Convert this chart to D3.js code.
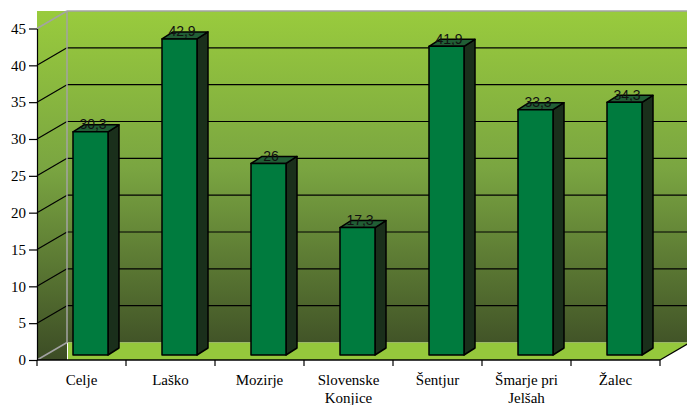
<!DOCTYPE html>
<html>
<head>
<meta charset="utf-8">
<script src="https://cdn.jsdelivr.net/npm/d3@7"></script>
<style>
  html, body { margin: 0; padding: 0; background: #fff; }
  svg { display: block; }
  .serif { font-family: "Liberation Serif", "DejaVu Serif", "Times New Roman", serif; }
  .sans { font-family: "Liberation Sans", Arial, sans-serif; }
</style>
</head>
<body>
<svg id="chart" width="687" height="405"></svg>
<script>
// Municipalities and their values
const categories = ["Celje", "Laško", "Mozirje", "Slovenske Konjice", "Šentjur", "Šmarje pri Jelšah", "Žalec"];
const values = [30.3, 42.9, 26, 17.3, 41.9, 33.3, 34.3];
const yTicks = [0, 5, 10, 15, 20, 25, 30, 35, 40, 45];

const svg = d3.select("#chart");
const W = 687;

// 3D frame geometry
const left = 37, right = 660, bottom = 360;
const depthX = 30, depthY = -17.5;      // wall depth offset
const barBase = 355;                     // front face baseline of the bars
const barW = 35, barDX = 11, barDY = -7; // bar front width and depth

const y = d3.scaleLinear().domain([0, 45]).range([bottom, 28.5]);
const x = d3.scaleBand().domain(categories).range([left, right]).padding(0);
const barH = v => y(0) - y(v);

// Wall gradient
const defs = svg.append("defs");
const grad = defs.append("linearGradient")
  .attr("id", "wallGrad").attr("gradientUnits", "userSpaceOnUse")
  .attr("x1", 0).attr("y1", y(45) + depthY).attr("x2", 0).attr("y2", bottom);
grad.append("stop").attr("offset", "0%").attr("stop-color", "#99cb3d");
grad.append("stop").attr("offset", "45%").attr("stop-color", "#7aa541");
grad.append("stop").attr("offset", "100%").attr("stop-color", "#3c4c25");

const wallTop = y(45) + depthY;
const backX = left + depthX;
const floorBack = bottom + depthY;

// Walls (side + back)
svg.append("path")
  .attr("d", d3.line()([
    [left, wallTop], [W + 5, wallTop], [W + 5, floorBack],
    [backX, floorBack], [backX, bottom], [left, bottom]
  ]) + "Z")
  .attr("fill", "url(#wallGrad)");

// Floor
svg.append("path")
  .attr("d", d3.line()([
    [backX + 1, floorBack], [right + depthX, floorBack],
    [right, bottom], [backX + 1, bottom]
  ]) + "Z")
  .attr("fill", "#95c83c");

// Gridlines on the back wall and side wall
const gridVals = yTicks.filter(v => v > 0 && v < 45);
svg.append("g").selectAll("line").data(gridVals).join("line")
  .attr("x1", backX).attr("x2", W + 5)
  .attr("y1", d => y(d) + depthY).attr("y2", d => y(d) + depthY)
  .attr("stroke", "#000").attr("stroke-width", 1.2);
svg.append("g").selectAll("line").data(gridVals).join("line")
  .attr("x1", left).attr("x2", backX)
  .attr("y1", d => y(d)).attr("y2", d => y(d) + depthY)
  .attr("stroke", "#000").attr("stroke-width", 1.2);

// Wall borders
const frame = svg.append("g").attr("stroke", "#a3a3a3").attr("stroke-width", 1.5).attr("fill", "none");
frame.append("line").attr("x1", backX).attr("x2", W + 5).attr("y1", wallTop).attr("y2", wallTop);
frame.append("line").attr("x1", backX).attr("x2", backX).attr("y1", wallTop).attr("y2", floorBack);
frame.append("line").attr("x1", left).attr("x2", backX).attr("y1", y(45)).attr("y2", wallTop);
frame.append("line").attr("x1", left).attr("x2", backX).attr("y1", bottom).attr("y2", floorBack);

// Floor right edge
svg.append("line")
  .attr("x1", right).attr("y1", bottom).attr("x2", right + depthX).attr("y2", floorBack)
  .attr("stroke", "#000").attr("stroke-width", 1.2);

// Bars
const data = categories.map((c, i) => ({ c, v: values[i] }));
const bx = d => x(d.c) + x.bandwidth() / 2 - 8.5;
const bars = svg.append("g").selectAll("g").data(data).join("g")
  .attr("stroke", "#000").attr("stroke-width", 1.5).attr("stroke-linejoin", "round");

bars.append("path") // side face
  .attr("d", d => {
    const x0 = bx(d) + barW, t = barBase - barH(d.v);
    return d3.line()([[x0, t], [x0 + barDX, t + barDY], [x0 + barDX, barBase + barDY], [x0, barBase]]) + "Z";
  })
  .attr("fill", "#1a2f1b");
bars.append("path") // top face
  .attr("d", d => {
    const x0 = bx(d), t = barBase - barH(d.v);
    return d3.line()([[x0, t], [x0 + barW, t], [x0 + barW + barDX, t + barDY], [x0 + barDX, t + barDY]]) + "Z";
  })
  .attr("fill", "#215e35");
bars.append("rect") // front face
  .attr("x", d => bx(d))
  .attr("y", d => barBase - barH(d.v))
  .attr("width", barW)
  .attr("height", d => barH(d.v))
  .attr("fill", "#007b3e");

// Value labels
svg.append("g").attr("class", "sans").selectAll("text").data(data).join("text")
  .attr("x", d => bx(d) + barW / 2 + 2.5)
  .attr("y", d => barBase - barH(d.v) - 2.5)
  .attr("text-anchor", "middle")
  .attr("font-size", 14)
  .attr("fill", "#111")
  .text(d => String(d.v).replace(".", ","));

// Value axis
const yAxis = svg.append("g").attr("transform", `translate(${left},0)`)
  .call(d3.axisLeft(y).tickValues(yTicks).tickSize(8).tickPadding(3).tickSizeOuter(0))
  .attr("font-family", null).attr("class", "serif");
yAxis.select(".domain").attr("stroke", "#000").attr("stroke-width", 1.2);
yAxis.selectAll(".tick line").attr("stroke", "#000").attr("stroke-width", 1.2);
yAxis.selectAll(".tick text").attr("font-size", 15).attr("fill", "#000");

// Category axis
const xAxis = svg.append("g").attr("class", "serif").attr("transform", `translate(0,${bottom})`);
xAxis.append("line").attr("x1", left).attr("x2", right).attr("y1", 0).attr("y2", 0)
  .attr("stroke", "#000").attr("stroke-width", 1.5);
const bounds = categories.map(c => x(c)).concat([right]);
xAxis.selectAll("line.tick").data(bounds).join("line").attr("class", "tick")
  .attr("x1", d => d).attr("x2", d => d).attr("y1", 0).attr("y2", 6)
  .attr("stroke", "#000").attr("stroke-width", 1.2);

const catText = xAxis.selectAll("text").data(categories).join("text")
  .attr("x", d => x(d) + x.bandwidth() / 2)
  .attr("y", 25)
  .attr("text-anchor", "middle")
  .attr("font-size", 15).attr("fill", "#000");

// Word-wrap each category name to the band width
catText.each(function(d) {
  const t = d3.select(this);
  const words = d.split(" ");
  const cx = x(d) + x.bandwidth() / 2;
  let line = [];
  let tspan = t.append("tspan").attr("x", cx).attr("dy", 0);
  words.forEach(w => {
    line.push(w);
    tspan.text(line.join(" "));
    if (tspan.node().getComputedTextLength() > x.bandwidth() - 14 && line.length > 1) {
      line.pop();
      tspan.text(line.join(" "));
      line = [w];
      tspan = t.append("tspan").attr("x", cx).attr("dy", 18).text(w);
    }
  });
});
</script>
</body>
</html>
